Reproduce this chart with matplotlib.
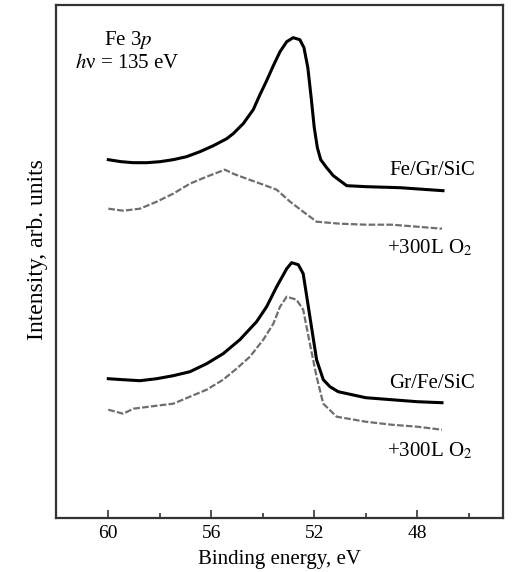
import numpy as np
import matplotlib
matplotlib.use("Agg")
import matplotlib.pyplot as plt

# ============================================
# DATA (intensity in arb. units)
# ============================================

# Fe/Gr/SiC
fegr_energy = [60.0, 59.5, 59.03, 58.5, 57.99, 57.48, 56.96, 56.44, 55.92, 55.4,
               55.15, 54.76, 54.37, 54.11, 53.85, 53.59, 53.33, 53.07, 52.82,
               52.56, 52.4, 52.25, 52.12, 52.0, 51.88, 51.75, 51.52, 51.26,
               50.74, 49.97, 48.67, 47.0]
fegr_int = [358, 356, 355, 355, 356, 358, 361, 366, 372, 379,
            384, 394, 408, 423, 437, 452, 466, 476, 480,
            478, 470, 450, 420, 390, 370, 358, 350, 342,
            332, 331, 330, 327]

# Fe/Gr/SiC + 300L O2
fegr_ox_energy = [60.0, 59.42, 58.77, 58.12, 57.48, 56.83, 56.18, 55.47, 55.15,
                  54.63, 53.98, 53.46, 52.94, 52.43, 51.91, 51.0, 50.0, 49.0,
                  48.0, 47.04]
fegr_ox_int = [309, 307, 309, 316, 324, 334, 341, 348, 344,
               339, 333, 328, 316, 306, 296, 294, 293, 293,
               291, 289]

# Gr/Fe/SiC
grfe_energy = [60.0, 59.42, 58.77, 58.12, 57.48, 56.83, 56.18, 55.54, 54.89,
               54.24, 53.85, 53.46, 53.07, 52.88, 52.62, 52.43, 52.17, 51.91,
               51.65, 51.39, 51.07, 50.0, 49.0, 48.0, 47.04]
grfe_int = [139, 138, 137, 139, 142, 146, 154, 164, 178,
            196, 211, 231, 249, 255, 253, 244, 201, 158,
            138, 131, 126, 120, 118, 116, 115]

# Gr/Fe/SiC + 300L O2
grfe_ox_energy = [60.0, 59.42, 59.03, 58.12, 57.48, 56.83, 56.18, 55.54, 55.02,
                  54.5, 53.98, 53.59, 53.33, 53.07, 52.69, 52.43, 52.17, 51.91,
                  51.65, 51.13, 50.0, 49.0, 48.0, 47.04]
grfe_ox_int = [108, 104, 109, 112, 114, 121, 128, 138, 149,
               161, 178, 194, 211, 221, 218, 208, 174, 141,
               114, 101, 96, 93, 91, 88]

major_ticks = [60, 56, 52, 48]
minor_ticks = [58, 54, 50, 46]

# ============================================
# PLOT
# ============================================

plt.rcParams["font.family"] = "Liberation Serif"
plt.rcParams["mathtext.fontset"] = "stix"

fig = plt.figure(figsize=(5.13, 5.72), dpi=100)
ax = fig.add_axes([0.1092, 0.0949, 0.8713, 0.8964])

ax.plot(fegr_energy, fegr_int, color="black", lw=2.2)
ax.plot(fegr_ox_energy, fegr_ox_int, color="#6e6e6e", lw=1.6, ls=(0, (3, 1)))
ax.plot(grfe_energy, grfe_int, color="black", lw=2.2)
ax.plot(grfe_ox_energy, grfe_ox_int, color="#6e6e6e", lw=1.6, ls=(0, (3, 1)))

ax.set_xlim(62.03, 44.67)
ax.set_ylim(0, 512.7)

ax.set_xticks(major_ticks)
ax.set_xticks(minor_ticks, minor=True)
ax.set_yticks([])
ax.tick_params(axis="x", which="major", direction="in", length=6, width=1.2,
               labelsize=14, pad=5, color="#333333")
ax.tick_params(axis="x", which="minor", direction="in", length=3.6, width=1.2,
               color="#333333")
for sp in ax.spines.values():
    sp.set_linewidth(1.6)
    sp.set_color("#333333")

ax.set_xlabel("Binding energy, eV", fontsize=15, labelpad=6)
fig.text(0.074, 0.563, "Intensity, arb. units", rotation=90, fontsize=17,
         ha="center", va="center")

ax.text(59.23, 472.7, "Fe 3$p$", fontsize=15, ha="center", va="baseline")
ax.text(59.27, 449.4, "$h$\u03bd = 135 eV", fontsize=15, ha="center", va="baseline")

ax.text(45.76, 342.7, "Fe/Gr/SiC", fontsize=15, ha="right", va="baseline")
ax.text(45.85, 264.4, "+300L O$_2$", fontsize=15, ha="right", va="baseline")
ax.text(45.76, 129.4, "Gr/Fe/SiC", fontsize=15, ha="right", va="baseline")
ax.text(45.85, 61.0, "+300L O$_2$", fontsize=15, ha="right", va="baseline")

fig.savefig("out.png", dpi=100)
